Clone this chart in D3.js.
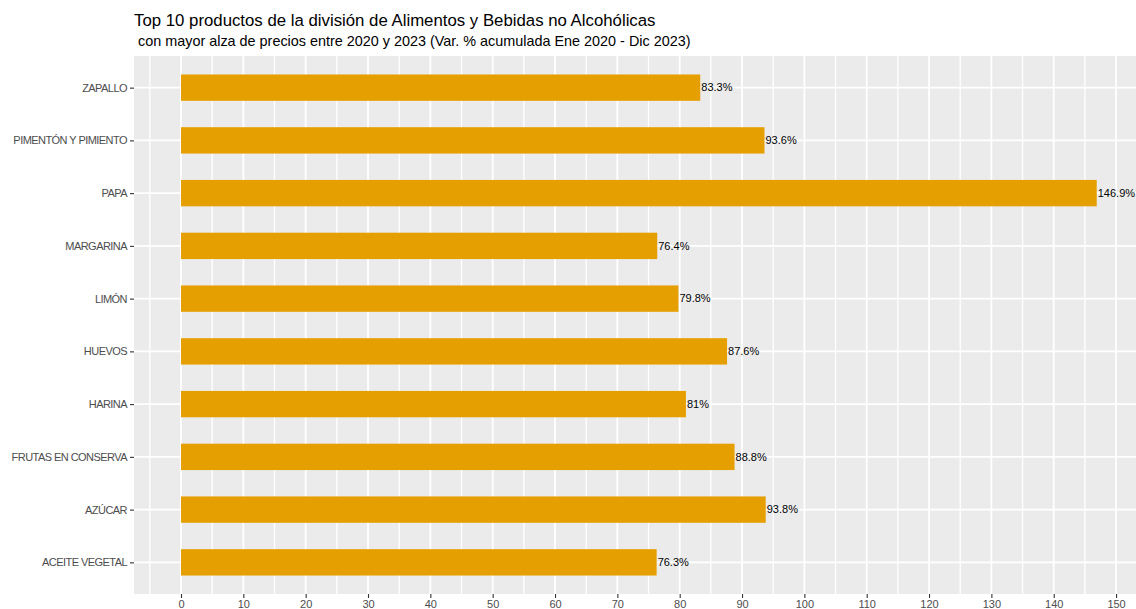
<!DOCTYPE html>
<html>
<head>
<meta charset="utf-8">
<script src="https://cdn.jsdelivr.net/npm/d3@7"></script>
<style>
	body { margin: 0; background: #fff; }
	svg { display: block; font-family: "Liberation Sans", Arial, sans-serif; }
</style>
</head>
<body>
<svg id="chart" width="1136" height="609"></svg>
<script>
// top to bottom, as in the picture
const products = ['ZAPALLO', 'PIMENTÓN Y PIMIENTO', 'PAPA', 'MARGARINA', 'LIMÓN',
	'HUEVOS', 'HARINA', 'FRUTAS EN CONSERVA', 'AZÚCAR', 'ACEITE VEGETAL']
const variation = [83.3, 93.6, 146.9, 76.4, 79.8, 87.6, 81, 88.8, 93.8, 76.3]
const xTicks = d3.range(0, 151, 10)
const xMinor = d3.range(-5, 156, 10)

const title = 'Top 10 productos de la división de Alimentos y Bebidas no Alcohólicas'
const subtitle = ' con mayor alza de precios entre 2020 y 2023 (Var. % acumulada Ene 2020 - Dic 2023)'

const data = products.map((p, i) => ({ p, v: variation[i] }))

const W = 1136, H = 609
const panel = { left: 134, right: 1136, top: 56, bottom: 594 }

const svg = d3.select('#chart')

const x = d3.scaleLinear().domain([-7.54, 153.2]).range([panel.left, panel.right])
// ggplot-ish discrete scale: 0.6 expansion each side
const y = d3.scalePoint().domain(products).range([panel.top, panel.bottom]).padding(0.6)
const bh = y.step() * 0.5

svg.append('rect')
	.attr('x', panel.left).attr('y', panel.top)
	.attr('width', panel.right - panel.left).attr('height', panel.bottom - panel.top)
	.attr('fill', '#EBEBEB')

const grid = svg.append('g').attr('stroke', '#fff')
grid.selectAll('.minor').data(xMinor).join('line')
	.attr('class', 'minor')
	.attr('x1', d => x(d)).attr('x2', d => x(d))
	.attr('y1', panel.top).attr('y2', panel.bottom)
	.attr('stroke-width', 1.3)
grid.selectAll('.major').data(xTicks).join('line')
	.attr('class', 'major')
	.attr('x1', d => x(d)).attr('x2', d => x(d))
	.attr('y1', panel.top).attr('y2', panel.bottom)
	.attr('stroke-width', 1.8)
grid.selectAll('.hmajor').data(products).join('line')
	.attr('class', 'hmajor')
	.attr('x1', panel.left).attr('x2', panel.right)
	.attr('y1', d => y(d)).attr('y2', d => y(d))
	.attr('stroke-width', 1.8)

svg.append('g').selectAll('rect').data(data).join('rect')
	.attr('x', x(0))
	.attr('y', d => y(d.p) - bh / 2)
	.attr('width', d => x(d.v) - x(0))
	.attr('height', bh)
	.attr('fill', '#E69F00')

svg.append('g').selectAll('text').data(data).join('text')
	.attr('x', d => x(d.v) + 1)
	.attr('y', d => y(d.p))
	.attr('dy', '0.35em')
	.attr('font-size', 11)
	.attr('fill', '#000')
	.text(d => `${d.v}%`)

// axes
const xAxis = svg.append('g')
	.attr('transform', `translate(0,${panel.bottom})`)
	.call(d3.axisBottom(x).tickValues(xTicks).tickSize(4).tickPadding(2))
xAxis.select('.domain').remove()
xAxis.selectAll('line').attr('stroke', '#333').attr('stroke-width', 1.1)
xAxis.selectAll('text').attr('fill', '#4D4D4D').attr('font-size', 11).attr('font-family', null)

const yAxis = svg.append('g')
	.attr('transform', `translate(${panel.left},0)`)
	.call(d3.axisLeft(y).tickSize(4).tickPadding(3))
yAxis.select('.domain').remove()
yAxis.selectAll('line').attr('stroke', '#333').attr('stroke-width', 1.1)
yAxis.selectAll('text').attr('fill', '#4D4D4D').attr('font-size', 11).attr('font-family', null)
	.attr('letter-spacing', -0.55)

svg.append('text')
	.attr('x', panel.left).attr('y', 26)
	.attr('font-size', 16.8).attr('fill', '#000')
	.text(title)
svg.append('text')
	.attr('x', panel.left).attr('y', 46)
	.attr('font-size', 14.4).attr('fill', '#000')
	.attr('xml:space', 'preserve')
	.style('white-space', 'pre')
	.text(subtitle)
</script>
</body>
</html>
